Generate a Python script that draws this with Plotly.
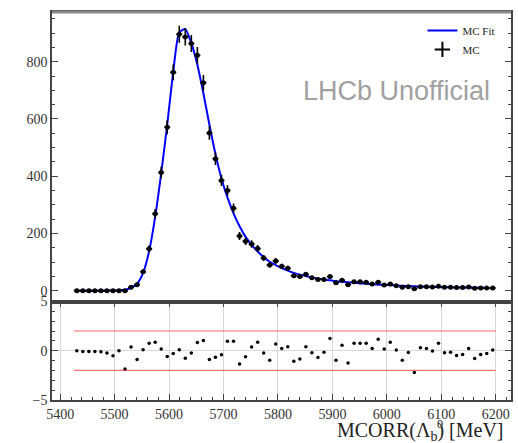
import numpy as np
import plotly.graph_objects as go
from plotly.subplots import make_subplots

# ---------------- data ----------------
bin_lo, bin_hi, n_bins = 5425.0, 6200.0, 70

mc_counts = [0, 0, 0, 0, 0, 0, 0, 0, 0, 11.6, 21, 66, 146, 269, 413, 571, 763, 896, 887, 864,
             823, 727, 551, 461, 385, 350, 288, 191, 173, 163, 147, 114, 90, 104, 85, 78, 52, 49, 57, 45,
             39, 39, 49, 28, 36, 21, 31, 31, 29, 23, 29, 20, 23, 17, 12, 14, 7, 14, 14, 13,
             15, 12, 12, 11, 11, 13, 8, 9, 9, 9]

mc_errors = [0, 0, 0, 0, 0, 0, 0, 0, 0, 3.4, 4.6, 8.1, 12.1, 16.4, 20.3, 23.9, 27.6, 29.9, 29.8, 29.4,
             28.7, 27.0, 23.5, 21.5, 19.6, 18.7, 17.0, 13.8, 13.2, 12.8, 12.1, 10.7, 9.5, 10.2, 9.2, 8.8, 7.2, 7.0, 7.5, 6.7,
             6.2, 6.2, 7.0, 5.3, 6.0, 4.6, 5.6, 5.6, 5.4, 4.8, 5.4, 4.5, 4.8, 4.1, 3.5, 3.7, 2.6, 3.7, 3.7, 3.6,
             3.9, 3.5, 3.5, 3.3, 3.3, 3.6, 2.8, 3.0, 3.0, 3.0]

fit_values = [0, 0, 0, 0, 0, 0, 0.3, 1, 3, 10, 24, 62, 138, 258, 410, 580, 765, 903, 914, 865,
              790, 690, 580, 478, 392, 325, 270, 225, 188, 160, 137, 117, 101, 89, 79, 70, 62, 56, 51, 46,
              42, 39, 36, 33, 31, 29, 27, 25, 24, 22, 21, 20, 19, 18, 17, 16, 15, 14, 13.5, 13,
              12.5, 12, 11.5, 11, 11, 10.5, 10, 10, 9.5, 9]

pulls = [0, -0.07, -0.07, -0.07, -0.1, -0.24, -0.5, 0, -1.86, 0.38, -0.9, 0.1, 0.76, 0.86, 0.17, -0.59, -0.28, 0.1, -0.76, -0.24,
         0.83, 1.03, -0.9, -0.66, -0.41, 0.97, 0.97, -1.34, -0.62, 0.38, 0.86, -0.24, -0.97, 0.69, 0.24, 0.41, -1.07, -0.83, 0.41, -0.2,
         -0.69, -0.14, 1.24, -0.97, 0.55, -1.24, 0.76, 0.76, 0.76, 0.24, 1.17, 0.17, 0.86, 0.07, -0.97, -0.17, -2.2, 0.31, 0.24, -0.03,
         0.76, -0.2, -0.14, -0.48, -0.38, 0.24, -0.79, -0.38, -0.28, 0.07]

x_ticks = [5400, 5500, 5600, 5700, 5800, 5900, 6000, 6100, 6200]
y_ticks_main = [0, 200, 400, 600, 800]
y_ticks_pull = [-5, 0, 5]
pull_band = 2
x_range = [5385, 6228]
y_range_main = [-38, 974]
y_range_pull = [-5, 5]

edges = np.linspace(bin_lo, bin_hi, n_bins + 1)
centers = 0.5 * (edges[:-1] + edges[1:])
half_w = (bin_hi - bin_lo) / n_bins / 2

SERIF = "Liberation Serif"
AX = "#444444"

fig = make_subplots(rows=2, cols=1, shared_xaxes=True, vertical_spacing=0,
                    row_heights=[291 / 390, 99 / 390])

# fit
fig.add_trace(go.Scatter(x=centers, y=fit_values, mode="lines", name="MC Fit",
                         line=dict(color="#0000ff", width=2, shape="spline", smoothing=0.6)),
              row=1, col=1)
# data
fig.add_trace(go.Scatter(x=centers, y=mc_counts, mode="markers", showlegend=False,
                         marker=dict(color="black", size=5),
                         error_y=dict(type="data", array=mc_errors, color="black", thickness=1.6, width=0),
                         error_x=dict(type="constant", value=half_w, color="black", thickness=1.6, width=0)),
              row=1, col=1)
# legend proxy for data
fig.add_trace(go.Scatter(x=[None], y=[None], mode="markers", name="MC",
                         marker=dict(symbol="cross-thin", size=11, color="black",
                                     line=dict(width=2, color="black"))),
              row=1, col=1)

# pulls band lines
fig.add_trace(go.Scatter(x=[bin_lo, bin_hi], y=[pull_band, pull_band], mode="lines", showlegend=False,
                         line=dict(color="rgba(255,0,0,0.3)", width=2)), row=2, col=1)
fig.add_trace(go.Scatter(x=[bin_lo, bin_hi], y=[-pull_band, -pull_band], mode="lines", showlegend=False,
                         line=dict(color="rgba(255,0,0,0.55)", width=1.2)), row=2, col=1)
fig.add_trace(go.Scatter(x=centers, y=pulls, mode="markers", showlegend=False,
                         marker=dict(color="black", size=3.5)), row=2, col=1)

tickfont = dict(family=SERIF, size=14, color="#333333")

fig.update_xaxes(range=x_range, showline=True, linecolor=AX, linewidth=1.5, mirror=True,
                 showgrid=False, zeroline=False, row=1, col=1, ticks="", showticklabels=False)
fig.update_xaxes(range=x_range, tickvals=x_ticks, showline=True, linecolor=AX, linewidth=1.5,
                 mirror="ticks", ticks="inside", ticklen=6, tickcolor=AX, tickwidth=1,
                 minor=dict(dtick=20, ticks="inside", ticklen=3, tickcolor=AX, showgrid=False),
                 showgrid=True, gridcolor="#d8d8d8", gridwidth=1, zeroline=False,
                 tickfont=tickfont, row=2, col=1)
fig.update_yaxes(range=y_range_main, tickvals=y_ticks_main, showline=True, linecolor=AX, linewidth=1.5,
                 mirror="ticks", ticks="inside", ticklen=6, tickcolor=AX,
                 minor=dict(dtick=50, tick0=0, ticks="inside", ticklen=3, tickcolor=AX),
                 showgrid=False, zeroline=False, tickfont=tickfont, row=1, col=1)
fig.update_yaxes(range=y_range_pull, tickvals=y_ticks_pull, showline=True, linecolor=AX, linewidth=1.5,
                 mirror="ticks", ticks="inside", ticklen=6, tickcolor=AX,
                 minor=dict(dtick=1, tick0=0, ticks="inside", ticklen=3, tickcolor=AX, showgrid=False),
                 showgrid=True, gridcolor="#d8d8d8", zeroline=False, tickfont=tickfont, row=2, col=1)

# heavier grey top frame as in the reference
fig.add_shape(type="line", xref="paper", yref="paper", x0=0, x1=1, y0=1, y1=1,
              line=dict(color="#888888", width=3))

fig.add_annotation(text="LHCb Unofficial", xref="paper", yref="paper", x=0.7505, y=0.797,
                   xanchor="center", yanchor="middle", showarrow=False,
                   font=dict(family="Liberation Sans", size=27, color="#a0a0a0"))

# x-axis title, with the superscript 0 stacked above the subscript b
title_font = dict(family=SERIF, size=20, color="#222222")
fig.add_annotation(text="MCORR(Λ<sub>b</sub>) [MeV]", xref="paper", yref="paper",
                   x=0.989, y=-0.081, xanchor="right", yanchor="middle", showarrow=False,
                   font=title_font)
fig.add_annotation(text="0", xref="paper", yref="paper",
                   x=(441.5 - 52) / 461, y=(400 - 424) / 390, xanchor="center", yanchor="middle",
                   showarrow=False, font=dict(family=SERIF, size=12, color="#222222"))

fig.update_layout(width=518, height=443, margin=dict(l=52, r=5, t=10, b=43),
                  paper_bgcolor="white", plot_bgcolor="white",
                  legend=dict(x=0.807, y=0.99, xanchor="left", yanchor="top",
                              bgcolor="rgba(0,0,0,0)", font=dict(family=SERIF, size=11, color="#222222"),
                              tracegroupgap=0, itemwidth=30),
                  showlegend=True)

fig.write_html("out.html")
